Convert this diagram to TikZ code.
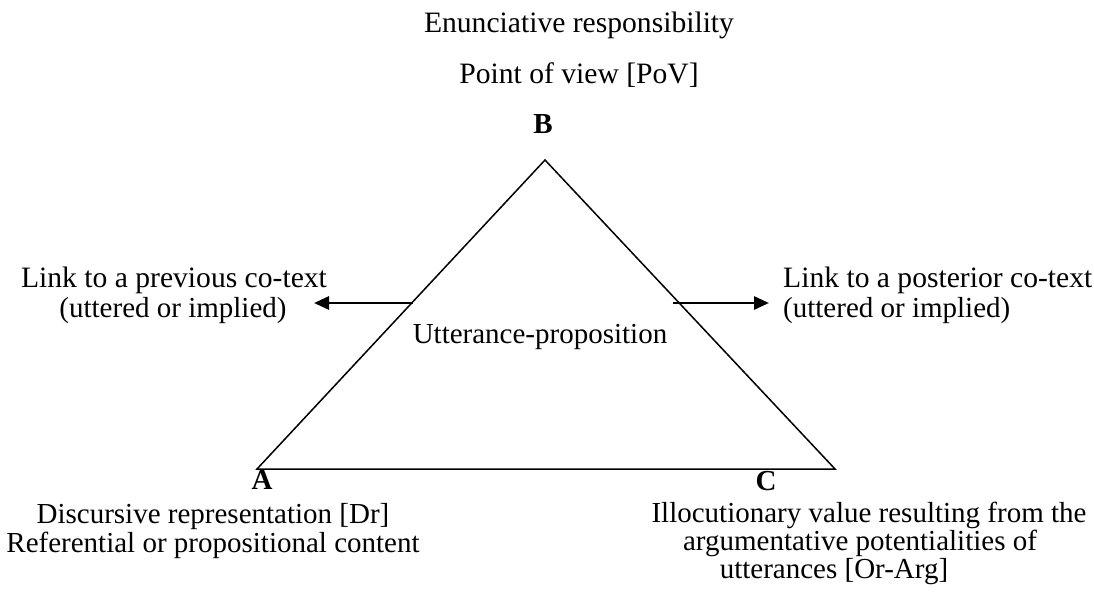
\documentclass[tikz,border=0pt]{standalone}
\usepackage{fontspec}
\setmainfont{Liberation Serif}
\usetikzlibrary{arrows.meta}
\begin{document}
\begin{tikzpicture}[x=1pt,y=-1pt,
  lbl/.style={anchor=base,inner sep=0pt,font=\fontsize{29}{31}\selectfont},
  big/.style={font=\fontsize{29.6}{31}\selectfont},
  lblw/.style={lbl,anchor=base west},
  vtx/.style={lbl,font=\fontsize{29}{31}\selectfont\bfseries},
  edge/.style={line width=1.5pt,line join=miter},
  link/.style={line width=2.8pt,-{Triangle[length=15pt,width=13pt]}}]
\useasboundingbox (0,0) rectangle (1094,594);
\coordinate (pB) at (545,160);
\coordinate (pA) at (257,469);
\coordinate (pC) at (835,469);
\draw[edge] (pA) -- (pB) -- (pC) -- cycle;
\coordinate (ls) at (413,303);
\coordinate (le) at (314,303);
\coordinate (rs) at (673,303);
\coordinate (re) at (769,303);
\draw[link] (ls) -- (le);
\draw[link] (rs) -- (re);
\node[lbl,big] (t1) at (579,33) {Enunciative responsibility};
\node[lbl,big] (t2) at (579,83) {Point of view [PoV]};
\node[vtx] (B) at (543,133) {B};
\node[lbl,big] (l1) at (174,287) {Link to a previous co-text};
\node[lbl] (l2) at (173,317) {(uttered or implied)};
\node[lblw,big] (r1) at (783,287) {Link to a posterior co-text};
\node[lblw] (r2) at (783,317) {(uttered or implied)};
\node[lbl] (u) at (540,343) {Utterance-proposition};
\node[vtx] (A) at (262,489) {A};
\node[vtx] (C) at (766,490) {C};
\node[lbl] (d1) at (213,523) {Discursive representation [Dr]};
\node[lbl] (d2) at (213,552) {Referential or propositional content};
\node[lbl] (i1) at (869,522) {Illocutionary value resulting from the};
\node[lbl] (i2) at (860,550) {argumentative potentialities of};
\node[lbl] (i3) at (834,578) {utterances [Or-Arg]};
\end{tikzpicture}
\end{document}
